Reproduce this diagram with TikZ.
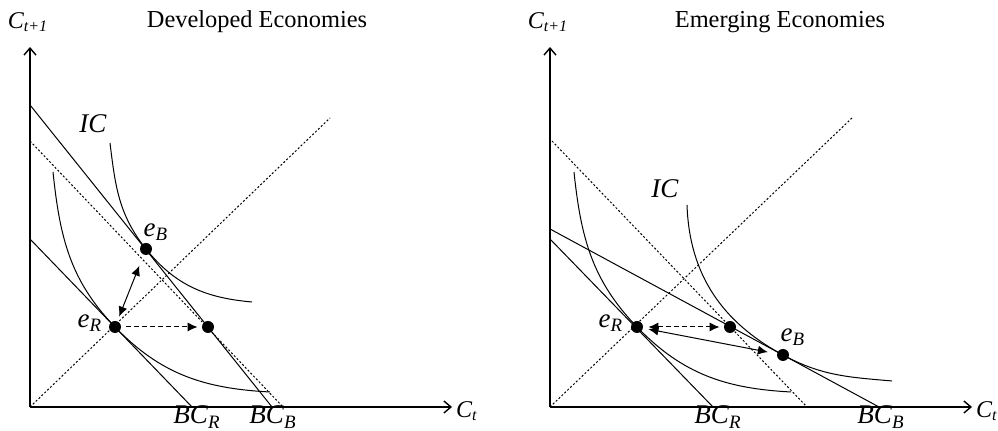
\documentclass[tikz,border=0pt]{standalone}
\usepackage{fontspec}
\setmainfont{Liberation Serif}
\usetikzlibrary{arrows.meta}
\newcommand{\ital}[2]{\textit{#1}\textsubscript{\textit{#2}}}

\begin{document}
\begin{tikzpicture}[x=0.5pt, y=0.5pt, font=\fontsize{12.2}{14}\selectfont, >={Latex[length=5pt,width=4.5pt]},
	axis/.style={line width=0.7pt, -{Straight Barb[length=3.5pt,width=6pt]}},
	axlabel/.style={font=\fontsize{12}{14}\selectfont},
	lab/.style={font=\fontsize{13.5}{15}\selectfont},
	budget/.style={line width=0.5pt},
	guide/.style={line width=0.5pt, dash pattern=on 1pt off 1pt},
	pref/.style={line width=0.5pt},
	dot/.style={circle, fill=black, inner sep=0pt, minimum size=6pt},
	move/.style={line width=0.5pt},
	trial/.style={line width=0.5pt, dash pattern=on 2.5pt off 1.5pt}]

	\useasboundingbox (0,0) rectangle (998,431);

	% developed economies
	\node (title1) at (257,409) {Developed Economies};
	\node[axlabel] (cy1) at (28,409) {\ital{C}{t+1}};
	\node[axlabel] (cx1) at (467,20) {\ital{C}{t}};

	\coordinate (o1) at (30,24);
	\coordinate (ytop1) at (30,384);
	\coordinate (xend1) at (452,24);
	\coordinate (pR1) at (115,104);
	\coordinate (pB1) at (146,182);
	\coordinate (pM1) at (208,104);

	\draw[axis] (o1) -- (ytop1);
	\draw[axis] (o1) -- (xend1);
	\draw[guide] (o1) -- (330,313);
	\draw[budget] (30,326) -- (272,24);
	\draw[guide] (30,290) -- (283,24);
	\draw[budget] (30,192) -- (192,24);

	\draw[pref] (110,288) to[out=-83,in=128.7] (pB1) to[out=-51.3,in=175] (252,129);
	\draw[pref] (53,259) to[out=-84,in=134] (pR1) to[out=-46,in=177] (270,39);

	\node[dot] (eR1) at (pR1) {};
	\node[dot] (eB1) at (pB1) {};
	\node[dot] (m1) at (pM1) {};

	\draw[move, <->, shorten <=2.4pt, shorten >=5.8pt] (eR1) -- (eB1);
	\draw[trial, ->, shorten <=2.5pt, shorten >=2pt] (eR1) -- (m1);

	\node[lab] (ic1) at (93,307) {\textit{IC}};
	\node[lab] (lb1) at (156,199) {\ital{e}{B}};
	\node[lab] (lr1) at (90,108) {\ital{e}{R}};
	\node[lab] (bcr1) at (197,14) {\ital{BC}{R}};
	\node[lab] (bcb1) at (273,14) {\ital{BC}{B}};

	% emerging economies
	\node (title2) at (780,409) {Emerging Economies};
	\node[axlabel] (cy2) at (548,409) {\ital{C}{t+1}};
	\node[axlabel] (cx2) at (987,20) {\ital{C}{t}};

	\coordinate (o2) at (550,24);
	\coordinate (ytop2) at (550,384);
	\coordinate (xend2) at (972,24);
	\coordinate (pR2) at (637,104);
	\coordinate (pB2) at (783,76);
	\coordinate (pM2) at (730,104);

	\draw[axis] (o2) -- (ytop2);
	\draw[axis] (o2) -- (xend2);
	\draw[guide] (o2) -- (852,313);
	\draw[guide] (552,290) -- (807,24);
	\draw[budget] (550,192) -- (713,24);
	\draw[budget] (550,202) -- (879,24);

	\draw[pref] (574,259) to[out=-84,in=134] (pR2) to[out=-46,in=177] (791,39);
	\draw[pref] (687,226) to[out=-88,in=151.6] (pB2) to[out=-28.4,in=175] (892,50);

	\node[dot] (eR2) at (pR2) {};
	\node[dot] (eB2) at (pB2) {};
	\node[dot] (m2) at (pM2) {};

	\draw[trial, <->, shorten <=2.5pt, shorten >=2pt] (eR2) -- (m2);
	\draw[move, <->, shorten <=2.6pt, shorten >=4.5pt] (eR2) -- (eB2);

	\node[lab] (ic2) at (665,242) {\textit{IC}};
	\node[lab] (lr2) at (611,108) {\ital{e}{R}};
	\node[lab] (lb2) at (793,94) {\ital{e}{B}};
	\node[lab] (bcr2) at (718,14) {\ital{BC}{R}};
	\node[lab] (bcb2) at (881,14) {\ital{BC}{B}};

\end{tikzpicture}
\end{document}
